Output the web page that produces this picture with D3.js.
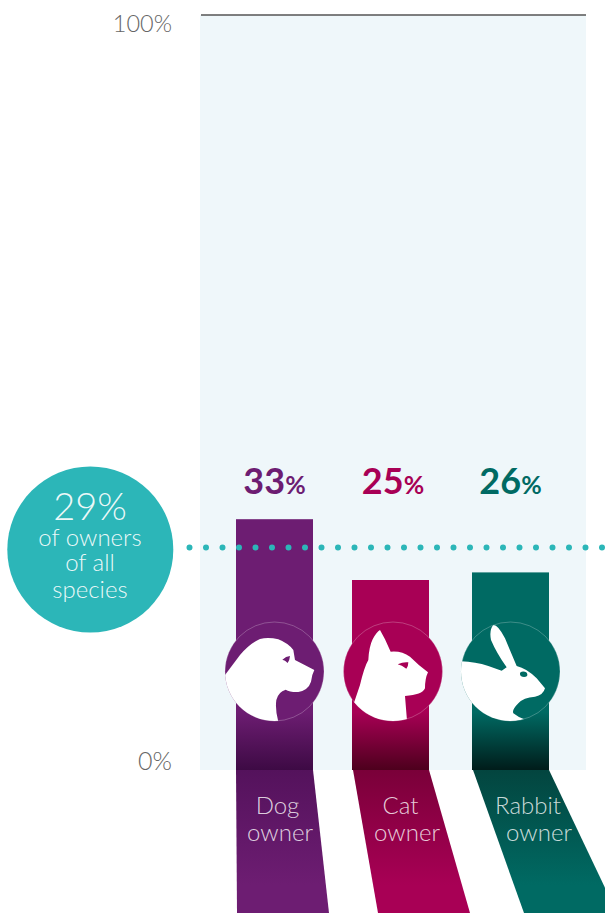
<!DOCTYPE html>
<html>
<head>
<meta charset="utf-8">
<script src="https://cdn.jsdelivr.net/npm/d3@7/dist/d3.min.js"></script>
<style>
html,body{margin:0;padding:0;background:#fff}
svg{display:block}
text{font-family:Lato,"Open Sans",sans-serif}
</style>
</head>
<body>
<script>
// Share of owners per species
const categories = ["Dog", "Cat", "Rabbit"];
const values = [33, 25, 26];
const allSpecies = 29;
const tickLabels = [0, 100];

const barColors = ["#6d1d72", "#a80055", "#006a63"];
const barDark = ["#3d0a44", "#4d001d", "#001c1a"];
const ribbonTop = ["#54125c", "#7a0039", "#03453f"];

const barLeft = [236, 352, 472];
const iconCentre = [274.5, 393, 510.5];
const ribbonBottom = [[237, 329], [378, 470], [524, 617]];

// Animal heads, drawn in a 3x grid centred on each circle
const iconPaths = [
  "M30 195L75 135Q105 100 135 87Q160 81 190 88Q220 100 235 120L240 150L298 180Q290 195 288 215Q280 240 250 246Q225 247 212 239Q190 245 184 270Q180 300 190 335L100 345L0 300L0 195Z",
  "M58 275L75 225Q88 170 100 150Q102 110 113 88Q125 65 135 60L150 88L167 125Q200 122 225 140Q250 165 279 187Q270 205 270 235Q262 255 210 258L216 332L100 350L30 300Z",
  "M15 154Q60 155 100 168L140 182L155 172Q125 130 108 90Q102 60 115 45Q130 45 150 85L185 168Q215 175 245 205L270 235Q265 255 240 260Q205 262 190 280Q170 300 175 310Q190 322 208 328L100 350L0 250Z"
];
const eyePaths = [
  "M202 149Q213 139 225 138Q224 151 218 159Q210 150 202 149Z",
  "M188 163Q205 155 220 157Q220 170 214 176Q200 166 188 163Z",
  "M195 193A11 8 10 1 1 217 193A11 8 10 1 1 195 193Z"
];
const iconOrigin = [[178.5, 184.5], [174, 184.5], [166.5, 184.5]];

const width = 605, height = 913;
const baseY = 770, panelTop = 15, panelLeft = 200, panelRight = 586;

const y = d3.scaleLinear().domain([0, 100]).range([baseY, 10]);
const x = d3.scaleOrdinal().domain(categories).range(barLeft);
const barW = 77, r = 49.5;

const svg = d3.select("body").append("svg").attr("width", width).attr("height", height);
const defs = svg.append("defs");

categories.forEach((c, i) => {
  const g1 = defs.append("linearGradient").attr("id", "bar" + i)
    .attr("gradientUnits", "userSpaceOnUse").attr("x1", 0).attr("x2", 0).attr("y1", 712).attr("y2", baseY);
  g1.append("stop").attr("offset", 0).attr("stop-color", barColors[i]);
  g1.append("stop").attr("offset", 1).attr("stop-color", barDark[i]);
  const g2 = defs.append("linearGradient").attr("id", "rib" + i)
    .attr("gradientUnits", "userSpaceOnUse").attr("x1", 0).attr("x2", 0).attr("y1", baseY).attr("y2", 885);
  g2.append("stop").attr("offset", 0).attr("stop-color", ribbonTop[i]);
  g2.append("stop").attr("offset", 1).attr("stop-color", barColors[i]);
  defs.append("clipPath").attr("id", "clip" + i)
    .append("circle").attr("cx", iconCentre[i]).attr("cy", 671.5).attr("r", r);
});

// Background panel and top rule
svg.append("rect").attr("x", panelLeft).attr("y", panelTop)
  .attr("width", panelRight - panelLeft).attr("height", baseY - panelTop).attr("fill", "#eff7fa");
svg.append("line").attr("x1", panelLeft + 1).attr("x2", panelRight).attr("y1", panelTop).attr("y2", panelTop)
  .attr("stroke", "#555").attr("stroke-width", 1.4);

// Axis end labels
svg.selectAll("text.tick").data(tickLabels).join("text").attr("class", "tick")
  .attr("x", 172).attr("y", d => d === 100 ? 31.5 : 770)
  .attr("text-anchor", "end").attr("font-size", d => d === 100 ? 23.5 : 25).attr("font-weight", 300)
  .attr("fill", "#666").text(d => d + "%");

// Ribbons below the baseline
const ribbon = d3.line();
categories.forEach((c, i) => {
  const l = x(c);
  svg.append("path")
    .attr("d", ribbon([[l + (i ? 1 : 0), baseY], [l + barW, baseY], [ribbonBottom[i][1], height], [ribbonBottom[i][0], height]]) + "Z")
    .attr("fill", `url(#rib${i})`);
});

// Bars
svg.selectAll("rect.bar").data(values).join("rect").attr("class", "bar")
  .attr("x", (d, i) => x(categories[i])).attr("width", barW)
  .attr("y", d => y(d)).attr("height", d => baseY - y(d))
  .attr("fill", (d, i) => `url(#bar${i})`);

// Value labels with a smaller percent sign
const vals = svg.selectAll("text.val").data(values).join("text").attr("class", "val")
  .attr("x", (d, i) => iconCentre[i]).attr("y", 494).attr("text-anchor", "middle")
  .attr("fill", (d, i) => barColors[i]).attr("font-weight", 700);
vals.append("tspan").attr("font-size", 36).text(d => d);
vals.append("tspan").attr("font-size", 25).text("%");

// Species badges
categories.forEach((c, i) => {
  const g = svg.append("g");
  g.append("circle").attr("cx", iconCentre[i]).attr("cy", 671.5).attr("r", r)
    .attr("fill", barColors[i]).attr("stroke", "#fff").attr("stroke-opacity", 0.3).attr("stroke-width", 0.8);
  const icon = g.append("g").attr("clip-path", `url(#clip${i})`).append("g")
    .attr("transform", `translate(${iconCentre[i]},671.5) scale(${1 / 3}) translate(${-iconOrigin[i][0]},${-iconOrigin[i][1]})`);
  icon.append("path").attr("d", iconPaths[i]).attr("fill", "#fff");
  icon.append("path").attr("d", eyePaths[i]).attr("fill", barColors[i]);
});

// Category names on the ribbons
const nameX = [277.5, 400.5, 528];
const ownerX = [280, 407, 539];
const labelFill = "rgba(255,255,255,0.8)";
categories.forEach((c, i) => {
  svg.append("text").attr("x", nameX[i]).attr("y", 813.5).attr("text-anchor", "middle")
    .attr("font-size", 24).attr("font-weight", 300).attr("fill", labelFill).text(c);
  svg.append("text").attr("x", ownerX[i]).attr("y", 840.5).attr("text-anchor", "middle")
    .attr("font-size", 24).attr("font-weight", 300).attr("fill", labelFill).text("owner");
});

// Dotted reference line at the all-species share
svg.append("line").attr("x1", 189.5).attr("x2", width + 4)
  .attr("y1", y(allSpecies) - 2).attr("y2", y(allSpecies) - 2)
  .attr("stroke", "#2cb6b8").attr("stroke-width", 6)
  .attr("stroke-linecap", "round").attr("stroke-dasharray", "0 16.5");

// All-species callout, one text block with tight leading
svg.append("circle").attr("cx", 90.3).attr("cy", 549.5).attr("r", 83).attr("fill", "#2cb6b8");
const callout = svg.append("text").attr("text-anchor", "middle")
  .attr("fill", "rgba(255,255,255,0.92)").attr("font-weight", 300);
callout.append("tspan").attr("x", 90).attr("y", 520).attr("font-size", 38).text(allSpecies + "%");
[["of owners", 546], ["of all", 571], ["species", 598]].forEach(([t, py]) => {
  callout.append("tspan").attr("x", 90).attr("y", py).attr("font-size", 24).text(t);
});
</script>
</body>
</html>
